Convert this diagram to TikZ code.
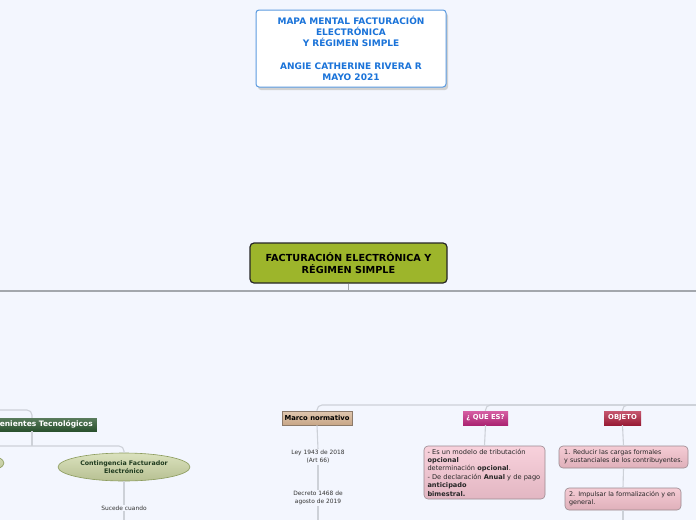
\documentclass[tikz,border=0pt]{standalone}
\usepackage{fontspec}
\setmainfont{DejaVu Sans}
\usetikzlibrary{shapes.geometric}
\definecolor{bg}{HTML}{F3F6FE}
\definecolor{titleblue}{HTML}{1A73D9}
\definecolor{titleborder}{HTML}{5B9BE0}
\definecolor{rootgreen}{HTML}{9DB52B}
\definecolor{mainline}{HTML}{A3A7AD}
\definecolor{connline}{HTML}{CDD1D8}
\definecolor{tan}{HTML}{D2AF8E}
\definecolor{tanborder}{HTML}{8C7A6A}
\definecolor{magenta}{HTML}{C92A86}
\definecolor{crimson}{HTML}{B3203F}
\definecolor{darkgreen}{HTML}{2F5A33}
\definecolor{ellfill}{HTML}{CBD5A2}
\definecolor{ellborder}{HTML}{8A9A5B}
\definecolor{elltext}{HTML}{1E3A1E}
\definecolor{pinkfill}{HTML}{F6C6D3}
\definecolor{pinkfill2}{HTML}{F2BFCA}
\definecolor{pinkborder}{HTML}{9A8A90}
\definecolor{plaintext}{HTML}{333333}
\tikzset{
  titlebox/.style={draw=titleborder, line width=1pt, fill=white, rounded corners=3pt,
    minimum width=190pt, minimum height=77pt, inner sep=0pt, align=center,
    text=titleblue, font=\bfseries\fontsize{9}{11.3}\selectfont},
  rootbox/.style={draw=black!85, line width=1.2pt, fill=rootgreen, rounded corners=4pt,
    minimum width=197pt, minimum height=40pt, inner sep=0pt, align=center,
    font=\bfseries\fontsize{9.7}{12}\selectfont},
  mline/.style={draw=mainline, line width=1.2pt},
  conn/.style={draw=connline, line width=1.1pt, rounded corners=5pt},
  tag/.style={minimum height=14pt, inner sep=0pt, font=\bfseries\fontsize{6.8}{7.5}\selectfont},
  ellip/.style={ellipse, draw=ellborder, line width=0.6pt, top color=ellfill!70!white,
    bottom color=ellfill!90!black, minimum width=132pt, minimum height=28pt, inner sep=0pt,
    align=center, text=elltext, font=\bfseries\fontsize{6.3}{7.4}\selectfont},
  plain/.style={align=center, text=plaintext, inner sep=1pt, font=\fontsize{5.9}{8}\selectfont},
  pinkbox/.style={draw=pinkborder, line width=0.6pt, rounded corners=4pt, inner sep=0pt,
    text=black!85}
}
\begin{document}
\begin{tikzpicture}[x=1pt,y=-1pt]
\useasboundingbox (0,0) rectangle (696,520);
\clip (0,0) rectangle (696,520);
\fill[bg] (0,0) rectangle (696,520);

% title
\fill[black!18, rounded corners=3pt] (258,13) rectangle (448,90);
\node[titlebox] (title) at (351,48.5) {MAPA MENTAL FACTURACIÓN\\ELECTRÓNICA\\Y RÉGIMEN SIMPLE\\[11.3pt]ANGIE CATHERINE RIVERA R\\MAYO 2021};

% root
\node[rootbox] (root) at (348.5,263) {FACTURACIÓN ELECTRÓNICA Y\\RÉGIMEN SIMPLE};
\coordinate (hl) at (0,291);
\coordinate (hr) at (696,291);
\draw[mline] (hl) -- (hr);
\draw[mline] (root.south) -- (root.south |- hl);

% right branches
\coordinate (rE) at (696,405);
\node[tag, draw=tanborder, line width=0.6pt, top color=tan!70!white, bottom color=tan!95!black, minimum width=70pt] (mn) at (317,418) {Marco normativo};
\node[tag, top color=magenta!75!white, bottom color=magenta!85!black, text=white, minimum width=45pt] (qe) at (485.5,418) {¿ QUE ES?};
\node[tag, top color=crimson!75!white, bottom color=crimson!85!black, text=white, minimum width=37pt] (ob) at (622.5,418) {OBJETO};
\draw[conn] (mn.north) |- (rE);
\draw[conn] (qe.north) |- (rE);
\draw[conn] (ob.north) |- (rE);

% marco normativo children
\node[plain] (ley) at (318,457) {Ley 1943 de 2018\\(Art 66)};
\node[plain] (dec) at (318,498) {Decreto 1468 de\\agosto de 2019};
\coordinate (mnb) at (318,520);
\draw[conn] (mn.south) -- (ley.north);
\draw[conn] (ley.south) -- (dec.north);
\draw[conn] (dec.south) -- (mnb);

% que es child
\node[pinkbox, top color=pinkfill!80!white, bottom color=pinkfill!92!black, minimum width=121pt, minimum height=53pt, text width=114pt, align=left, font=\fontsize{6.6}{8.4}\selectfont] (qbox) at (484.5,472.5) {- Es un modelo de tributación\\\textbf{opcional}\\determinación \textbf{opcional}.\\- De declaración \textbf{Anual} y de pago\\\textbf{anticipado}\\\textbf{bimestral.}};
\draw[conn] (qe.south) -- (qbox.north);

% objeto children
\node[pinkbox, top color=pinkfill2!80!white, bottom color=pinkfill2!92!black, minimum width=129pt, minimum height=22pt, align=left, font=\fontsize{6.4}{8}\selectfont] (b1) at (623.5,457) {1. Reducir las cargas formales\\y sustanciales de los contribuyentes.};
\node[pinkbox, top color=pinkfill2!80!white, bottom color=pinkfill2!92!black, minimum width=116pt, minimum height=22pt, text width=108pt, align=left, font=\fontsize{6.4}{8}\selectfont] (b2) at (623,499) {2. Impulsar la formalización y en\\general.};
\coordinate (obb) at (623,520);
\draw[conn] (ob.south) -- (b1.north);
\draw[conn] (b1.south) -- (b2.north);
\draw[conn] (b2.south) -- (obb);

% left branch
\coordinate (lA) at (0,410);
\coordinate (incTop) at (32,418);
\coordinate (incBot) at (32,431);
\coordinate (lB) at (0,446);
\draw[conn] (lA) -| (incTop);
\node[tag, anchor=east, top color=darkgreen!80!white, bottom color=darkgreen!90!black, text=white, minimum height=13pt, inner xsep=4pt, font=\bfseries\fontsize{7.5}{8}\selectfont] (inc) at (97,424.5) {Inconvenientes Tecnológicos};
\node[ellip] (cont0) at (-62,463) {};
\node[ellip] (cont) at (124,467) {Contingencia Facturador\\Electrónico};
\draw[conn] (incBot) -- (incBot |- lB);
\draw[conn] (lB) -| (cont.north);
\node[plain] (suc) at (124,508) {Sucede cuando};
\coordinate (cb) at (124,520);
\draw[conn] (cont.south) -- (suc.north);
\draw[conn] (suc.south) -- (cb);
\end{tikzpicture}
\end{document}
